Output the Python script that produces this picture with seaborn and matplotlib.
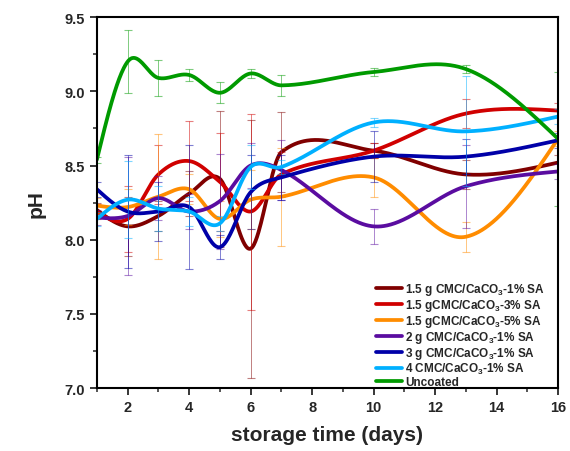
import numpy as np
import pandas as pd
import matplotlib
matplotlib.use('Agg')
import matplotlib.pyplot as plt
import seaborn as sns

days = [1, 2, 3, 4, 5, 6, 7, 10, 13, 16]

names = ['1.5 g CMC/CaCO$_3$-1% SA', '1.5 gCMC/CaCO$_3$-3% SA', '1.5 gCMC/CaCO$_3$-5% SA',
         '2 g CMC/CaCO$_3$-1% SA', '3 g CMC/CaCO$_3$-1% SA', '4 CMC/CaCO$_3$-1% SA', 'Uncoated']
colors = ['#800000', '#d00000', '#ff8c00', '#5a0ca0', '#0000a8', '#00b0ff', '#009a00']

ph_cmc15_1 = [8.20, 8.09, 8.16, 8.31, 8.41, 7.94, 8.59, 8.60, 8.44, 8.52]
ph_cmc15_3 = [8.19, 8.14, 8.44, 8.53, 8.39, 8.19, 8.44, 8.60, 8.85, 8.87]
ph_cmc15_5 = [8.23, 8.22, 8.29, 8.34, 8.14, 8.27, 8.29, 8.42, 8.02, 8.68]
ph_cmc2_1 = [8.15, 8.16, 8.28, 8.19, 8.26, 8.50, 8.47, 8.09, 8.36, 8.46]
ph_cmc3_1 = [8.34, 8.19, 8.19, 8.22, 7.95, 8.32, 8.42, 8.56, 8.56, 8.67]
ph_cmc4_1 = [8.14, 8.27, 8.21, 8.19, 8.11, 8.49, 8.49, 8.79, 8.73, 8.83]
ph_uncoated = [8.54, 9.20, 9.09, 9.11, 8.99, 9.12, 9.04, 9.13, 9.15, 8.68]

err_cmc15_1 = [0.05, 0.20, 0.10, 0.15, 0.46, 0.87, 0.27, 0.05, 0.10, 0.05]
err_cmc15_3 = [0.05, 0.22, 0.20, 0.27, 0.33, 0.66, 0.15, 0.05, 0.10, 0.05]
err_cmc15_5 = [0.05, 0.12, 0.42, 0.10, 0.12, 0.20, 0.33, 0.13, 0.10, 0.05]
err_cmc2_1 = [0.05, 0.40, 0.15, 0.12, 0.32, 0.15, 0.20, 0.12, 0.28, 0.05]
err_cmc3_1 = [0.05, 0.38, 0.20, 0.42, 0.08, 0.25, 0.15, 0.17, 0.12, 0.05]
err_cmc4_1 = [0.05, 0.26, 0.15, 0.10, 0.05, 0.15, 0.05, 0.03, 0.37, 0.05]
err_uncoated = [0.02, 0.21, 0.12, 0.04, 0.07, 0.03, 0.07, 0.03, 0.03, 0.45]

series = [ph_cmc15_1, ph_cmc15_3, ph_cmc15_5, ph_cmc2_1, ph_cmc3_1, ph_cmc4_1, ph_uncoated]
errors = [err_cmc15_1, err_cmc15_3, err_cmc15_5, err_cmc2_1, err_cmc3_1, err_cmc4_1, err_uncoated]


def smooth(x, y, xs):
    # cardinal (Catmull-Rom type) cubic Hermite curve through the points
    x = np.asarray(x, float); y = np.asarray(y, float)
    n = len(x); h = np.diff(x); d = np.diff(y) / h
    m = np.zeros(n)
    m[1:-1] = (y[2:] - y[:-2]) / (x[2:] - x[:-2])
    m[0] = 1.5 * d[0] - 0.5 * m[1]
    m[-1] = 1.5 * d[-1] - 0.5 * m[-2]
    i = np.clip(np.searchsorted(x, xs) - 1, 0, n - 2)
    t = (xs - x[i]) / h[i]
    h00 = 2 * t**3 - 3 * t**2 + 1; h10 = t**3 - 2 * t**2 + t
    h01 = -2 * t**3 + 3 * t**2; h11 = t**3 - t**2
    return h00 * y[i] + h10 * h[i] * m[i] + h01 * y[i + 1] + h11 * h[i] * m[i + 1]


sns.set_theme(style='ticks')
plt.rcParams['font.family'] = ['Liberation Sans', 'DejaVu Sans']
plt.rcParams['font.weight'] = 'bold'
plt.rcParams['mathtext.fontset'] = 'custom'
plt.rcParams['mathtext.rm'] = 'Liberation Sans:bold'
plt.rcParams['mathtext.bf'] = 'Liberation Sans:bold'
plt.rcParams['mathtext.default'] = 'bf'

fig = plt.figure(figsize=(5.7, 4.52), dpi=100)
ax = fig.add_axes([0.170, 0.139, 0.809, 0.821])

xs = np.linspace(days[0], days[-1], 600)
for name, c, y, e in zip(names, colors, series, errors):
    ax.errorbar(days, y, yerr=e, fmt='none', ecolor=c, elinewidth=0.7, capsize=3,
                capthick=0.8, alpha=0.5)
    sns.lineplot(x=xs, y=smooth(days, y, xs), color=c, lw=2.7, label=name, ax=ax)

ax.set_xlim(1, 16)
ax.set_ylim(7.0, 9.5)
ax.set_xticks(range(2, 17, 2))
ax.set_xticks(range(1, 17), minor=True)
ax.set_yticks(np.arange(7.0, 9.51, 0.5))
ax.set_yticks(np.arange(7.0, 9.51, 0.25), minor=True)
ax.set_yticklabels([f'{v:.1f}' for v in np.arange(7.0, 9.51, 0.5)])
ax.tick_params(axis='both', which='major', direction='out', length=5, width=1.3,
               labelsize=10.5)
ax.tick_params(axis='both', which='minor', direction='out', length=3, width=1.1)
for s in ax.spines.values():
    s.set_linewidth(1.5)
    s.set_color('black')

ax.set_xlabel('storage time (days)', fontsize=15, fontweight='bold', labelpad=8)
ax.set_ylabel('pH', fontsize=15, fontweight='bold', labelpad=14)

ax.legend(loc='lower right', bbox_to_anchor=(0.99, -0.022), frameon=False, fontsize=8.5,
          handlelength=2.2, handletextpad=0.3, labelspacing=0.0, borderaxespad=0.3)

fig.savefig('out.png', dpi=100)
